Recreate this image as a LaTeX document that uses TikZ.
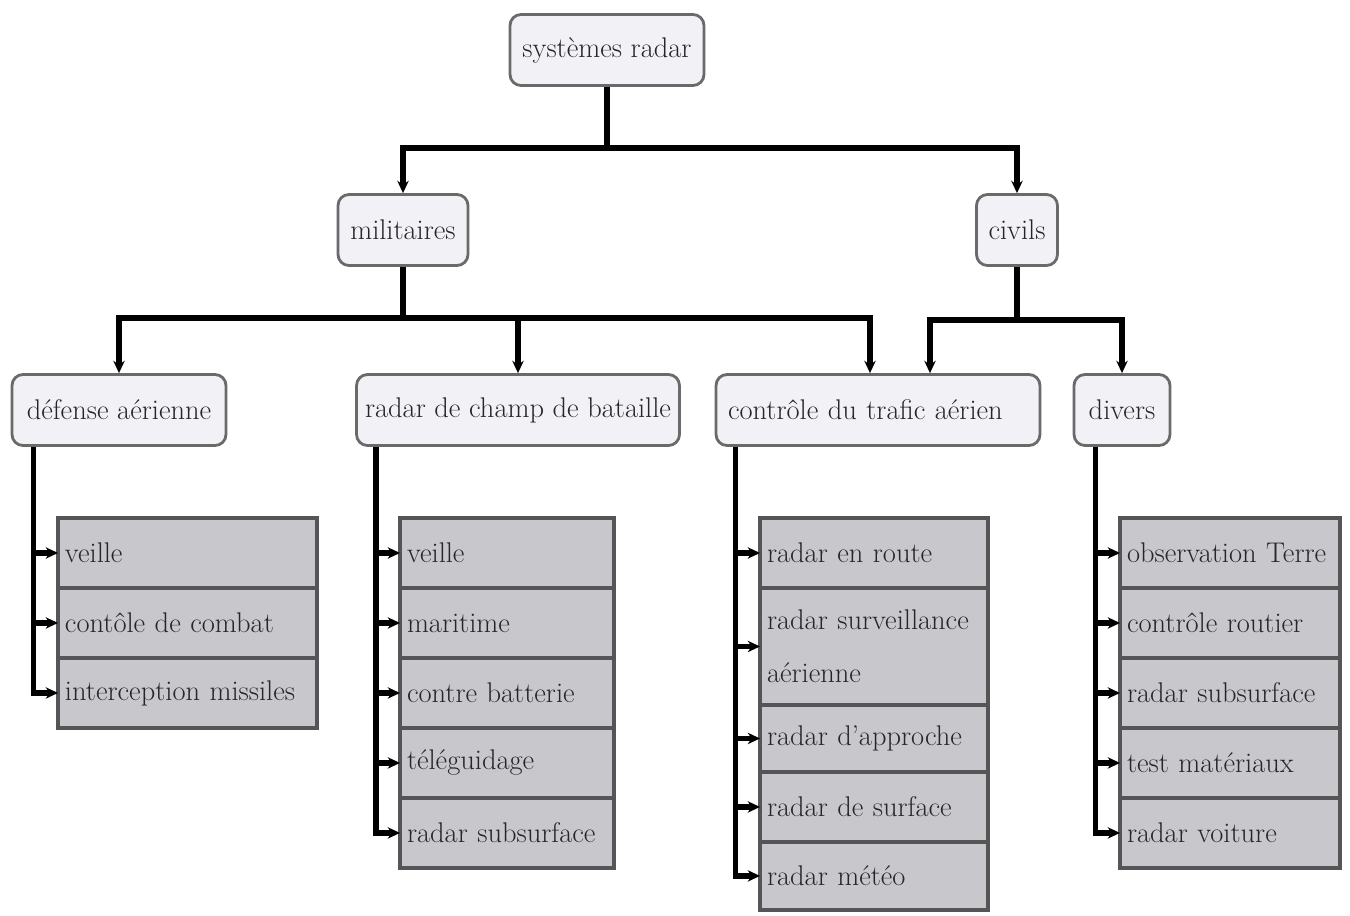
\documentclass[tikz,border=0pt]{standalone}
\usetikzlibrary{positioning,arrows.meta}
\definecolor{boxfill}{HTML}{F2F2F6}
\definecolor{boxline}{HTML}{6A6A6A}
\definecolor{listfill}{HTML}{C8C8CC}
\definecolor{listline}{HTML}{555558}
\definecolor{ink}{HTML}{262628}

\begin{document}
\begin{tikzpicture}[x=0.02cm,y=-0.02cm]
			\tikzstyle{group} = [draw=boxline, fill=boxfill, line width=1.6pt, rounded corners=0.22cm, minimum height=1.42cm, text=ink, font=\fontsize{16.2}{19}\selectfont]
			\tikzstyle{entry} = [draw=listline, fill=listfill, line width=2pt, outer sep=0pt, minimum height=1.4cm, inner xsep=0.14cm, align=left, text=ink, font=\fontsize{16.2}{19}\selectfont]
			\tikzset{link/.style = {line width=3pt}, edge/.style = {link, -{Stealth[length=7pt,width=6.5pt]}}}
			\useasboundingbox (0,0) rectangle (1350,916);

			% tree
			\node[group, minimum width=3.88cm](sys) at (607,50) {systèmes radar};
			\node[group, minimum width=2.6cm](mil) at (403,230) {militaires};
			\node[group, minimum width=1.62cm](civ) at (1017,230) {civils};
			\node[group, minimum width=4.28cm](def) at (119,410) {défense aérienne};
			\node[group, minimum width=6.46cm](champ) at (518,410) {radar de champ de bataille};
			\node[group, inner xsep=0.24cm, text width=6.0cm, align=left](trafic) at (878,410) {contrôle du trafic aérien};
			\node[group, minimum width=1.92cm](divers) at (1122,410) {divers};

			\coordinate (j0) at (607,148);
			\draw[link](sys) -- (j0);
			\draw[edge](j0) -| (mil);
			\draw[edge](j0) -| (civ);

			\coordinate (j1) at (403,318);
			\coordinate (a1) at (870,318);
			\draw[link](mil) -- (j1);
			\draw[edge](j1) -| (def);
			\draw[edge](j1) -| (champ);
			\draw[edge](j1) -- (a1) -- (a1 |- trafic.north);

			\coordinate (j2) at (1017,320);
			\coordinate (a2) at (930,320);
			\draw[link](civ) -- (j2);
			\draw[edge](j2) -- (a2) -- (a2 |- trafic.north);
			\draw[edge](j2) -| (divers);

			% lists
			\node[entry, text width=4.9cm, anchor=north west](d1) at (58,518) {veille};
			\node[entry, text width=4.9cm, below=0pt of d1](d2) {contôle de combat};
			\node[entry, text width=4.9cm, below=0pt of d2](d3) {interception missiles};

			\node[entry, text width=4.0cm, anchor=north west](b1) at (400,518) {veille};
			\node[entry, text width=4.0cm, below=0pt of b1](b2) {maritime};
			\node[entry, text width=4.0cm, below=0pt of b2](b3) {contre batterie};
			\node[entry, text width=4.0cm, below=0pt of b3](b4) {téléguidage};
			\node[entry, text width=4.0cm, below=0pt of b4](b5) {radar subsurface};

			\node[entry, text width=4.28cm, anchor=north west](t1) at (760,518) {radar en route};
			\node[entry, text width=4.28cm, minimum height=2.34cm, font=\fontsize{16.2}{30}\selectfont, below=0pt of t1](t2) {radar surveillance\\aérienne};
			\node[entry, text width=4.28cm, minimum height=1.34cm, below=0pt of t2](t3) {radar d'approche};
			\node[entry, text width=4.28cm, below=0pt of t3](t4) {radar de surface};
			\node[entry, text width=4.28cm, minimum height=1.36cm, below=0pt of t4](t5) {radar météo};

			\node[entry, text width=4.12cm, anchor=north west](v1) at (1120,518) {observation Terre};
			\node[entry, text width=4.12cm, below=0pt of v1](v2) {contrôle routier};
			\node[entry, text width=4.12cm, below=0pt of v2](v3) {radar subsurface};
			\node[entry, text width=4.12cm, below=0pt of v3](v4) {test matériaux};
			\node[entry, text width=4.12cm, below=0pt of v4](v5) {radar voiture};

			% feeds
			\coordinate (f1) at ([xshift=0.46cm]def.south west);
			\draw[edge](f1) |- (d3);
			\foreach \n in {d1,d2} \draw[edge](f1 |- \n.west) -- (\n.west);

			\coordinate (f2) at ([xshift=0.42cm]champ.south west);
			\draw[edge](f2) |- (b5);
			\foreach \n in {b1,b2,b3,b4} \draw[edge](f2 |- \n.west) -- (\n.west);

			\coordinate (f3) at ([xshift=0.42cm]trafic.south west);
			\draw[edge](f3) |- (t5);
			\foreach \n in {t1,t2,t3,t4} \draw[edge](f3 |- \n.west) -- (\n.west);

			\coordinate (f4) at ([xshift=0.46cm]divers.south west);
			\draw[edge](f4) |- (v5);
			\foreach \n in {v1,v2,v3,v4} \draw[edge](f4 |- \n.west) -- (\n.west);

\end{tikzpicture}
\end{document}
